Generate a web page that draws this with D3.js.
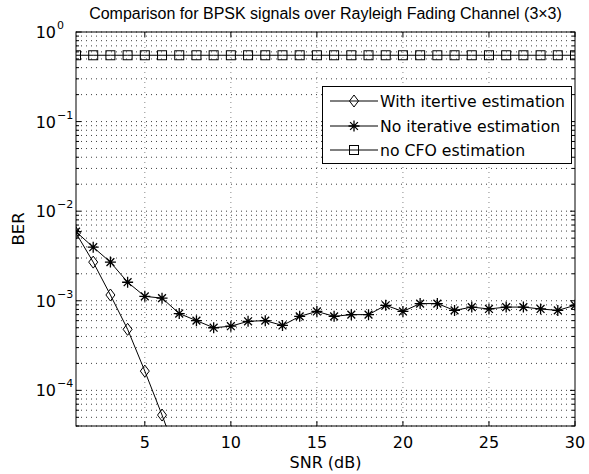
<!DOCTYPE html>
<html><head><meta charset="utf-8">
<script src="https://cdn.jsdelivr.net/npm/d3@7"></script>
<style>body{margin:0;background:#fff}svg{display:block}text{font-family:"DejaVu Sans",Arial,Helvetica,sans-serif;fill:#000}</style>
</head><body>
<script>
const snr = d3.range(1, 31);
const withIter = [5.7e-3, 2.7e-3, 1.16e-3, 4.8e-4, 1.64e-4, 5.3e-5, 1.6e-5];
const noIter = [5.9e-3, 3.96e-3, 2.7e-3, 1.61e-3, 1.12e-3, 1.07e-3, 7.2e-4, 6.0e-4, 5.0e-4, 5.2e-4,
  5.9e-4, 6.0e-4, 5.3e-4, 6.7e-4, 7.6e-4, 6.7e-4, 7.0e-4, 7.0e-4, 8.9e-4, 7.6e-4,
  9.3e-4, 9.3e-4, 7.8e-4, 8.5e-4, 8.1e-4, 8.5e-4, 8.5e-4, 8.1e-4, 7.8e-4, 8.9e-4];
const noCFO = snr.map(() => 0.55);
const xTicks = [5, 10, 15, 20, 25, 30];
const yDecades = [-4, -3, -2, -1, 0];
const seriesNames = ["With itertive estimation", "No iterative estimation", "no CFO estimation"];
const titleText = "Comparison for BPSK signals over Rayleigh Fading Channel (3\u00d73)";

const W = 589, H = 474;
const L = 76, R = 575, T = 32, B = 426;
const svg = d3.select("body").append("svg").attr("width", W).attr("height", H);
const x = d3.scaleLinear().domain([1, 30]).range([L, R]);
const y = d3.scaleLog().domain([4e-5, 1]).range([B, T]);

const logVals = [];
for (let e = -5; e <= 0; e++) for (let k = 1; k <= 9; k++) {
  const v = k * Math.pow(10, e);
  if (v >= 4e-5 * 0.999 && v <= 1.0001) logVals.push(v);
}
const g = svg.append("g");
g.selectAll("line.hg").data(logVals).join("line")
  .attr("x1", L).attr("x2", R).attr("y1", d => y(d)).attr("y2", d => y(d))
  .attr("stroke", "#000").attr("stroke-width", 1).attr("stroke-dasharray", "1,4").attr("opacity", 0.75);
g.selectAll("line.vg").data(xTicks.filter(t => t < 30)).join("line")
  .attr("x1", d => x(d)).attr("x2", d => x(d)).attr("y1", T).attr("y2", B)
  .attr("stroke", "#888").attr("stroke-width", 1).attr("stroke-dasharray", "1,4");

const tk = svg.append("g").attr("stroke", "#000").attr("stroke-width", 1);
xTicks.forEach(t => {
  tk.append("line").attr("x1", x(t)).attr("x2", x(t)).attr("y1", B).attr("y2", B - 5);
  tk.append("line").attr("x1", x(t)).attr("x2", x(t)).attr("y1", T).attr("y2", T + 5);
});
logVals.forEach(v => {
  const major = Math.abs(Math.log10(v) - Math.round(Math.log10(v))) < 1e-9;
  const len = major ? 5 : 3;
  tk.append("line").attr("x1", L).attr("x2", L + len).attr("y1", y(v)).attr("y2", y(v));
  tk.append("line").attr("x1", R).attr("x2", R - len).attr("y1", y(v)).attr("y2", y(v));
});

svg.append("g").selectAll("text").data(xTicks).join("text")
  .attr("x", d => x(d)).attr("y", 448).attr("text-anchor", "middle")
  .attr("font-size", 16).text(d => d);
const yl = svg.append("g");
yDecades.forEach(e => {
  yl.append("text").attr("x", 56).attr("y", y(Math.pow(10, e)) + 6)
    .attr("text-anchor", "end").attr("font-size", 16).text("10");
  yl.append("text").attr("x", 57).attr("y", y(Math.pow(10, e)) - 3)
    .attr("font-size", 11).text(e === 0 ? "0" : "\u2212" + (-e));
});
svg.append("text").attr("x", (L + R) / 2).attr("y", 468).attr("text-anchor", "middle")
  .attr("font-size", 16).text("SNR (dB)");
svg.append("text").attr("transform", `translate(24,${(T + B) / 2}) rotate(-90)`)
  .attr("text-anchor", "middle").attr("font-size", 16.5).text("BER");
svg.append("text").attr("x", (L + R) / 2).attr("y", 19).attr("text-anchor", "middle")
  .attr("font-size", 16).style("font-family", "'Liberation Sans', Arial, sans-serif").text(titleText);

svg.append("clipPath").attr("id", "clip").append("rect")
  .attr("x", L).attr("y", T).attr("width", R - L).attr("height", B - T);
const plot = svg.append("g").attr("clip-path", "url(#clip)");
const line = d3.line().x(d => x(d[0])).y(d => y(d[1]));

function diamond(sel, cx, cy) {
  sel.append("path").attr("d", `M${cx},${cy - 6}L${cx + 4.5},${cy}L${cx},${cy + 6}L${cx - 4.5},${cy}Z`)
    .attr("fill", "none").attr("stroke", "#000").attr("stroke-width", 1);
}
function square(sel, cx, cy) {
  sel.append("rect").attr("x", cx - 4.5).attr("y", cy - 4.5).attr("width", 9).attr("height", 9)
    .attr("fill", "none").attr("stroke", "#000").attr("stroke-width", 1);
}
function star(sel, cx, cy) {
  const r = 5.5, r2 = 3.9;
  let d = `M${cx - r},${cy}L${cx + r},${cy}M${cx},${cy - r}L${cx},${cy + r}`;
  d += `M${cx - r2},${cy - r2}L${cx + r2},${cy + r2}M${cx - r2},${cy + r2}L${cx + r2},${cy - r2}`;
  sel.append("path").attr("d", d).attr("stroke", "#000").attr("stroke-width", 1.3).attr("fill", "none");
}

const dW = withIter.map((v, i) => [snr[i], v]);
const dN = noIter.map((v, i) => [snr[i], v]);
const dC = noCFO.map((v, i) => [snr[i], v]);
[dW, dN, dC].forEach(d => plot.append("path").attr("d", line(d)).attr("fill", "none")
  .attr("stroke", "#000").attr("stroke-width", 1));
dC.forEach(d => square(plot, x(d[0]), y(d[1])));
dN.forEach(d => star(plot, x(d[0]), y(d[1])));
dW.forEach(d => diamond(plot, x(d[0]), y(d[1])));

svg.append("rect").attr("x", L).attr("y", T).attr("width", R - L).attr("height", B - T)
  .attr("fill", "none").attr("stroke", "#000").attr("stroke-width", 1);

const lg = svg.append("g");
lg.append("rect").attr("x", 322.5).attr("y", 86.5).attr("width", 249).attr("height", 77)
  .attr("fill", "#fff").attr("stroke", "#000").attr("stroke-width", 1);
const rows = [101, 126, 150];
const mk = [diamond, star, square];
seriesNames.forEach((n, i) => {
  lg.append("line").attr("x1", 330).attr("x2", 378).attr("y1", rows[i]).attr("y2", rows[i])
    .attr("stroke", "#000").attr("stroke-width", 1);
  mk[i](lg, 354, rows[i]);
  lg.append("text").attr("x", 380).attr("y", rows[i] + 5.5).attr("font-size", 15.7).text(n);
});
</script>
</body></html>
